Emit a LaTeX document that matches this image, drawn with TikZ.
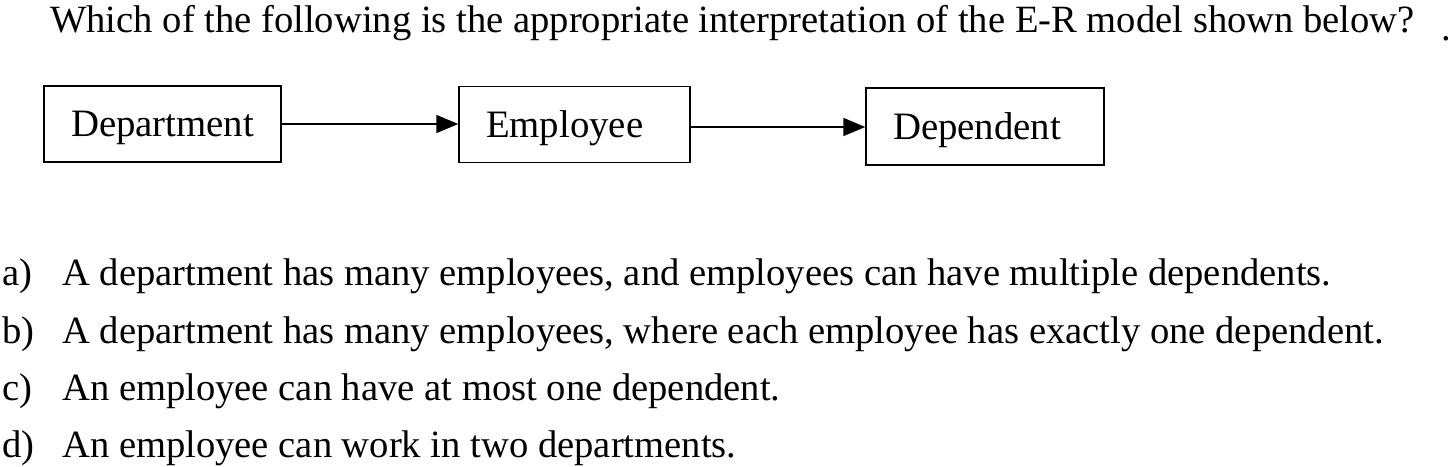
\documentclass[tikz,border=0pt]{standalone}
\usepackage{fontspec}
\setmainfont{Liberation Serif}
\usepackage{tikz}
\usetikzlibrary{arrows, arrows.meta}
\usetikzlibrary{positioning}

\begin{document}
\begin{tikzpicture}[x=1pt, y=-1pt,
    entity/.style={draw, line width=1.4pt, minimum height=76pt, inner xsep=27pt,
      inner ysep=0pt, text height=34pt, text depth=9pt, align=left,
      font=\fontsize{38.8}{40}\selectfont},
    txt/.style={anchor=base west, inner sep=0pt, font=\fontsize{38.6}{44}\selectfont},
    rel/.style={line width=1.6pt, -{Triangle[length=22pt, width=18pt]}}]
  \useasboundingbox (0,0) rectangle (1455,466);

  \node[txt] (question) at (50,32) {Which of the following is the appropriate interpretation of the E-R model shown below?};
  \node[txt] (dot) at (1441,40) {.};

  % entities
  \node[entity, text width=183pt] (department) at (162.5,124) {Department};
  \node[entity, text width=177pt] (employee) at (574.5,124.5) {Employee};
  \node[entity, text width=184pt, minimum height=77pt] (dependent) at (985,126.5) {Dependent};

  \draw[rel] (department.east) -- (department.east -| employee.west);
  \draw[rel] (employee.east) ++(0,2.5) coordinate (empout) -- (empout -| dependent.west);

  % answers
  \node[txt] (la) at (2,285) {a)};
  \node[txt] (ta) at (62,285) {A department has many employees, and employees can have multiple dependents.};
  \node[txt] (lb) at (2,343) {b)};
  \node[txt] (tb) at (62,343) {A department has many employees, where each employee has exactly one dependent.};
  \node[txt] (lc) at (2,400) {c)};
  \node[txt] (tc) at (62,400) {An employee can have at most one dependent.};
  \node[txt] (ld) at (2,457) {d)};
  \node[txt] (td) at (62,457) {An employee can work in two departments.};
\end{tikzpicture}
\end{document}
